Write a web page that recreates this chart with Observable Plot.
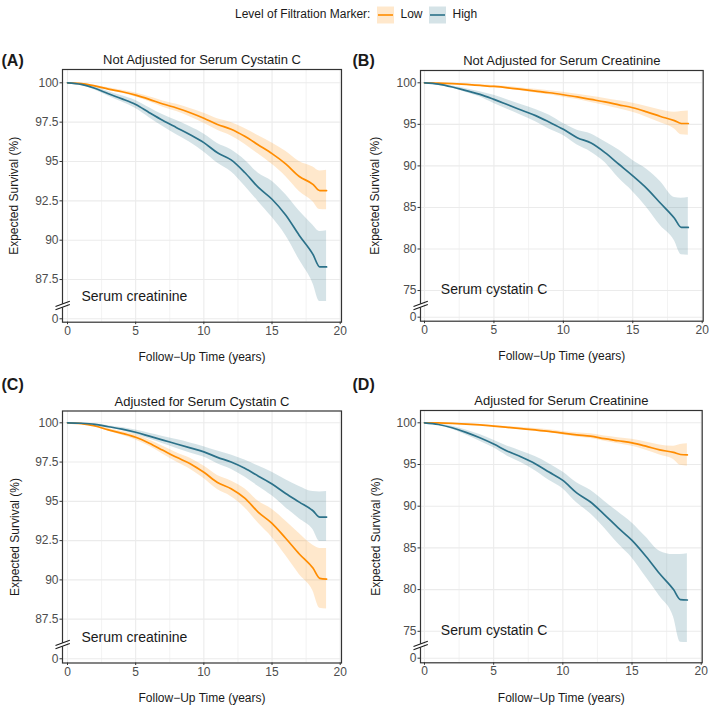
<!DOCTYPE html>
<html><head><meta charset="utf-8">
<script src="https://cdn.jsdelivr.net/npm/d3@7"></script>
<script src="https://cdn.jsdelivr.net/npm/@observablehq/plot@0.6"></script>
<style>
body{margin:0;background:#fff;font-family:"Liberation Sans",Arial,Helvetica,sans-serif;}
#root{position:relative;width:709px;height:706px;overflow:hidden;background:#fff;}
#root > svg, #root > div{position:absolute;}
</style></head><body><div id="root"></div>
<script>
// ---- data (years of follow-up; expected survival %) ----
const years = [0,1,2,3,4,5,6,7,8,9,10,11,12,13,14,15,16,17,18,18.5,19];
const groups = ["Low","High"];
const legendTitle = "Level of Filtration Marker:";

// Panel A
const aLowEst  = [100,99.95,99.8,99.6,99.43,99.22,98.95,98.65,98.4,98.1,97.75,97.35,97.05,96.6,96.05,95.5,94.85,94.05,93.55,93.15,93.15];
const aLowLo   = [100,99.93,99.75,99.52,99.33,99.09,98.79,98.45,98.17,97.83,97.43,96.98,96.62,96.1,95.47,94.82,94.05,93.1,92.45,91.95,91.93];
const aLowHi   = [100,99.97,99.85,99.68,99.53,99.35,99.11,98.85,98.63,98.37,98.07,97.72,97.48,97.1,96.63,96.18,95.65,95.0,94.65,94.4,94.45];
const aHighEst = [100,99.9,99.65,99.3,98.98,98.62,98.1,97.6,97.15,96.7,96.2,95.55,95.1,94.3,93.35,92.6,91.6,90.3,89.1,88.3,88.3];
const aHighLo  = [100,99.85,99.55,99.15,98.78,98.36,97.78,97.23,96.7,96.2,95.6,94.9,94.35,93.45,92.45,91.45,90.3,88.75,87.25,86.1,86.1];
const aHighHi  = [100,99.95,99.75,99.45,99.18,98.88,98.42,97.97,97.6,97.2,96.75,96.15,95.75,95.1,94.25,93.75,92.9,91.85,90.95,90.55,90.6];
// Panel B
const bLowEst  = [100,99.97,99.9,99.8,99.68,99.56,99.4,99.2,99.0,98.8,98.56,98.3,98.0,97.7,97.35,97.0,96.5,95.95,95.45,95.1,95.1];
const bLowLo   = [100,99.96,99.87,99.74,99.59,99.44,99.25,99.02,98.78,98.55,98.27,97.98,97.63,97.28,96.87,96.45,95.85,95.18,94.45,93.75,93.7];
const bLowHi   = [100,99.98,99.93,99.86,99.77,99.68,99.55,99.38,99.22,99.05,98.85,98.62,98.37,98.12,97.83,97.55,97.15,96.72,96.45,96.55,96.6];
const bHighEst = [100,99.85,99.5,99.05,98.6,98.0,97.35,96.7,96.05,95.25,94.4,93.4,92.75,91.6,90.2,88.8,87.3,85.5,83.7,82.6,82.6];
const bHighLo  = [100,99.8,99.38,98.82,98.28,97.5,96.78,96.05,95.3,94.4,93.65,92.5,91.65,90.4,88.5,86.9,85.0,82.8,81.0,79.3,79.25];
const bHighHi  = [100,99.9,99.62,99.28,98.92,98.5,97.92,97.35,96.8,96.1,95.1,94.3,93.85,92.9,91.9,90.65,89.6,88.1,86.2,86.1,86.2];
// Panel C
const cLowEst  = [100,99.95,99.8,99.55,99.33,99.08,98.7,98.25,97.8,97.4,96.85,96.2,95.8,95.2,94.3,93.6,92.65,91.65,90.75,90.1,90.05];
const cLowLo   = [100,99.93,99.75,99.46,99.2,98.91,98.5,98.0,97.5,97.05,96.45,95.75,95.3,94.6,93.6,92.7,91.55,90.35,89.3,88.2,88.15];
const cLowHi   = [100,99.97,99.85,99.64,99.45,99.25,98.9,98.5,98.1,97.75,97.25,96.65,96.3,95.8,95.0,94.5,93.75,92.95,92.2,92.0,92.0];
const cHighEst = [100,99.97,99.9,99.75,99.6,99.4,99.15,98.9,98.65,98.4,98.15,97.8,97.5,97.1,96.6,96.1,95.5,94.95,94.4,94.0,94.0];
const cHighLo  = [100,99.95,99.86,99.68,99.5,99.26,98.97,98.67,98.37,98.08,97.82,97.4,97.05,96.55,95.95,95.35,94.6,93.9,93.2,92.45,92.45];
const cHighHi  = [100,99.99,99.94,99.82,99.7,99.54,99.33,99.13,98.93,98.72,98.48,98.2,97.95,97.63,97.25,96.85,96.38,95.95,95.62,95.6,95.63];
// Panel D
const dLowEst  = [100,99.98,99.93,99.85,99.74,99.6,99.45,99.3,99.15,98.98,98.76,98.55,98.4,98.1,97.85,97.6,97.2,96.75,96.45,96.2,96.15];
const dLowLo   = [100,99.97,99.91,99.81,99.68,99.51,99.33,99.16,98.99,98.8,98.55,98.3,98.12,97.78,97.48,97.18,96.7,96.15,95.6,94.9,94.8];
const dLowHi   = [100,99.99,99.95,99.89,99.8,99.69,99.57,99.44,99.31,99.16,98.97,98.8,98.68,98.42,98.22,98.02,97.7,97.35,97.2,97.4,97.48];
const dHighEst = [100,99.8,99.4,98.85,98.2,97.45,96.6,95.9,95.1,94.1,93.1,91.6,90.5,89.0,87.4,85.9,84.0,81.9,80.0,78.8,78.75];
const dHighLo  = [100,99.72,99.22,98.55,97.8,97.0,96.0,95.2,94.25,93.1,92.1,90.4,89.1,87.4,85.5,83.8,81.5,79.2,76.7,73.7,73.65];
const dHighHi  = [100,99.88,99.58,99.15,98.6,97.9,97.2,96.6,95.95,95.1,94.1,92.8,91.9,90.6,89.3,88.0,86.3,84.6,84.2,84.2,84.3];

// tick labels
const xTicks = [0,5,10,15,20];
const xMinor = [2.5,7.5,12.5,17.5];
const yTicksFine = [0,87.5,90,92.5,95,97.5,100];
const yTicksWide = [0,75,80,85,90,95,100];

const xTitle = "Follow\u2212Up Time (years)";
const yTitle = "Expected Survival (%)";
const titles = ["Not Adjusted for Serum Cystatin C","Not Adjusted for Serum Creatinine","Adjusted for Serum Cystatin C","Adjusted for Serum Creatinine"];
const letters = ["(A)","(B)","(C)","(D)"];
const markers = ["Serum creatinine","Serum cystatin C","Serum creatinine","Serum cystatin C"];

const COLORS = {Low:"#FF8C00", High:"#2B7189"};
const FONT = "'Liberation Sans', Arial, Helvetica, sans-serif";

function rows(est, lo, hi, group){ return years.map((t,i)=>({t, est:est[i], lo:lo[i], hi:hi[i], group})); }

// zeroAt: where the broken axis puts 0 (just below the upper section)
const panels = [
  {i:0, left:0, top:40, width:355, mL:62, mR:14, mT:29, mB:48.3,
   xDomain:[-0.367,20.095], yDomain:[84.79,100.845], zeroAt:85.006,
   yTicks:yTicksFine, breakY:265, letterDx:-61, letterDy:-4, yTitleDx:-48, markDx:19, markDy:-21,
   low:rows(aLowEst,aLowLo,aLowHi,"Low"), high:rows(aHighEst,aHighLo,aHighHi,"High")},
  {i:1, left:355, top:40, width:354, mL:65, mR:6.3, mT:30, mB:49.3,
   xDomain:[-0.288,20.072], yDomain:[71.31,101.48], zeroAt:71.793,
   yTicks:yTicksWide, breakY:265, letterDx:-68, letterDy:-5, yTitleDx:-45, markDx:20.3, markDy:-27.2,
   low:rows(bLowEst,bLowLo,bLowHi,"Low"), high:rows(bHighEst,bHighLo,bHighHi,"High")},
  {i:2, left:0, top:381, width:355, mL:62, mR:14, mT:29.5, mB:48.5,
   xDomain:[-0.367,20.095], yDomain:[84.71,100.751], zeroAt:84.978,
   yTicks:yTicksFine, breakY:263, letterDx:-61, letterDy:-21.5, yTitleDx:-47, markDx:19, markDy:-21.5,
   low:rows(cLowEst,cLowLo,cLowHi,"Low"), high:rows(cHighEst,cHighLo,cHighHi,"High")},
  {i:3, left:355, top:381, width:354, mL:65, mR:7.3, mT:29, mB:48.7,
   xDomain:[-0.288,20.072], yDomain:[71.223,101.475], zeroAt:71.775,
   yTicks:yTicksWide, breakY:264, letterDx:-68, letterDy:-21, yTitleDx:-44.5, markDx:20.3, markDy:-28.3,
   low:rows(dLowEst,dLowLo,dLowHi,"Low"), high:rows(dHighEst,dHighLo,dHighHi,"High")}
];

const root = document.getElementById("root");

for (const p of panels){
  const height = 330;
  const xs = d3.scaleLinear().domain(p.xDomain).range([p.mL, p.width - p.mR]);
  const ys = d3.scaleLinear().domain(p.yDomain).range([height - p.mB, p.mT]);
  const fx = p.mL, by = p.breakY;
  const breakLines = [
    {x1:xs.invert(fx-7), y1:ys.invert(by+1),   x2:xs.invert(fx+7.3), y2:ys.invert(by-4.3)},
    {x1:xs.invert(fx-7), y1:ys.invert(by+4.3), x2:xs.invert(fx+7.3), y2:ys.invert(by-1)}
  ];
  const gap = [{x1:xs.invert(fx), y1:ys.invert(by-1.7), x2:xs.invert(fx), y2:ys.invert(by+1.8)}];
  const z = p.zeroAt;
  const chart = Plot.plot({
    width:p.width, height, marginLeft:p.mL, marginRight:p.mR, marginTop:p.mT, marginBottom:p.mB,
    style:{background:"transparent", overflow:"visible", fontFamily:FONT, fontSize:"12px"},
    x:{domain:p.xDomain},
    y:{domain:p.yDomain, transform:v => (v < 50 ? v + z : v)},
    marks:[
      Plot.gridX(xMinor, {stroke:"#EBEBEB", strokeOpacity:1, strokeWidth:0.6}),
      Plot.gridX(xTicks, {stroke:"#EBEBEB", strokeOpacity:1, strokeWidth:1.1}),
      Plot.gridY(p.yTicks, {stroke:"#EBEBEB", strokeOpacity:1, strokeWidth:1.1}),
      Plot.areaY(p.low, {x:"t", y1:"lo", y2:"hi", fill:COLORS.Low, fillOpacity:0.2, curve:"monotone-x"}),
      Plot.areaY(p.high, {x:"t", y1:"lo", y2:"hi", fill:COLORS.High, fillOpacity:0.2, curve:"monotone-x"}),
      Plot.lineY(p.low, {x:"t", y:"est", stroke:COLORS.Low, strokeWidth:1.7, curve:"monotone-x"}),
      Plot.lineY(p.high, {x:"t", y:"est", stroke:COLORS.High, strokeWidth:1.7, curve:"monotone-x"}),
      Plot.frame({stroke:"#333333", strokeWidth:1.2}),
      Plot.link(gap, {x1:"x1", y1:"y1", x2:"x2", y2:"y2", stroke:"white", strokeWidth:3}),
      Plot.link(breakLines, {x1:"x1", y1:"y1", x2:"x2", y2:"y2", stroke:"#1a1a1a", strokeWidth:1.1}),
      Plot.axisX(xTicks, {tickSize:2.5, tickPadding:1.5, fontSize:12, fill:"#4D4D4D", stroke:"#333333", label:null, tickFormat:d => `${d}`}),
      Plot.axisY(p.yTicks, {tickSize:2.5, tickPadding:1.5, fontSize:12, fill:"#4D4D4D", stroke:"#333333", label:null, tickFormat:d => `${d}`}),
      Plot.text([titles[p.i]], {text:d=>d, frameAnchor:"top", dy:-5.5, lineAnchor:"bottom", fontSize:13, fill:"#1A1A1A"}),
      Plot.text([xTitle], {text:d=>d, frameAnchor:"bottom", dy:38.7, lineAnchor:"bottom", fontSize:12, fill:"#1A1A1A"}),
      Plot.text([yTitle], {text:d=>d, frameAnchor:"left", rotate:-90, dx:p.yTitleDx, lineAnchor:"middle", textAnchor:"middle", fontSize:12, fill:"#1A1A1A"}),
      Plot.text([markers[p.i]], {text:d=>d, frameAnchor:"bottom-left", dx:p.markDx, dy:p.markDy, textAnchor:"start", lineAnchor:"bottom", fontSize:14, fill:"#1A1A1A"}),
      Plot.text([letters[p.i]], {text:d=>d, frameAnchor:"top-left", dx:p.letterDx, dy:p.letterDy, textAnchor:"start", lineAnchor:"bottom", fontSize:16, fontWeight:"bold", fill:"#1A1A1A"})
    ]
  });
  chart.style.left = p.left + "px";
  chart.style.top = p.top + "px";
  root.appendChild(chart);
}

// ---- legend (above the panels) ----
const leg = d3.create("svg").attr("width",709).attr("height",30)
  .style("left","0px").style("top","0px").style("font-family",FONT);
leg.append("text").attr("x",235).attr("y",18).attr("font-size",12).attr("fill","#1A1A1A").text(legendTitle);
const keyX = {Low:377, High:429};
for (const g of groups){
  const x0 = keyX[g];
  leg.append("rect").attr("x",x0).attr("y",6.5).attr("width",17).attr("height",17)
    .attr("fill",COLORS[g]).attr("fill-opacity",0.2);
  leg.append("line").attr("x1",x0+1).attr("x2",x0+16).attr("y1",15).attr("y2",15)
    .attr("stroke",COLORS[g]).attr("stroke-width",1.6);
  leg.append("text").attr("x",x0+23.5).attr("y",18).attr("font-size",12).attr("fill","#1A1A1A").text(g);
}
root.appendChild(leg.node());
</script>
</body></html>
